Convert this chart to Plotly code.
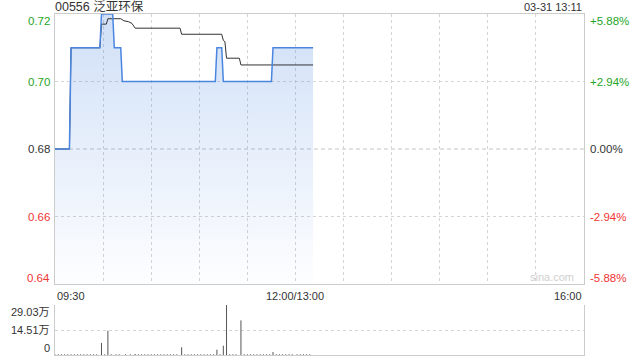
import plotly.graph_objects as go

# ---------------- data ----------------
title_text = "00556 泛亚环保"
stamp_text = "03-31 13:11"

# minutes since 09:30 (continuous trading minutes, 150 = 12:00/13:00, 330 = 16:00)
price_min = [0, 9, 10, 28, 29, 36, 37, 41, 42, 100, 101, 104, 105, 135, 136, 161]
price_val = [0.68, 0.68, 0.71, 0.71, 0.72, 0.72, 0.71, 0.71, 0.70, 0.70, 0.71, 0.71,
             0.70, 0.70, 0.71, 0.71]

avg_min = [0, 9, 10, 28, 29, 32, 33, 41, 43, 46, 48, 50, 78, 79, 104, 105, 106, 107,
           115, 116, 161]
avg_val = [0.68, 0.68, 0.71, 0.71, 0.717, 0.717, 0.7186, 0.7186, 0.718, 0.7177, 0.7172,
           0.7158, 0.7158, 0.714, 0.714, 0.7122, 0.7118, 0.7069, 0.7069, 0.7049, 0.7049]

# volume (万)
vol_min = [29, 33, 50, 79, 101, 105, 107, 116, 136]
vol_val = [7.0, 14.1, 0.6, 4.5, 3.1, 5.4, 29.03, 20.1, 1.7]
small_vol_min = [0, 2, 4, 6, 8, 10, 12, 14, 16, 18, 20, 22, 24, 26, 31, 35, 38, 40, 44, 47,
                 52, 54, 56, 58, 60, 62, 64, 66, 68, 70, 72, 74, 76, 81, 83, 85, 87, 89,
                 91, 93, 95, 97, 99, 103, 109, 111, 113, 118, 120, 122, 124, 126, 128,
                 130, 132, 134, 138, 140, 142, 144, 146, 148, 151, 153, 155, 157, 159]
small_vol_val = [0.5] * len(small_vol_min)

price_ticks = [0.72, 0.70, 0.68, 0.66, 0.64]
price_tick_labels = ["0.72", "0.70", "0.68", "0.66", "0.64"]
pct_tick_labels = ["+5.88%", "+2.94%", "0.00%", "-2.94%", "-5.88%"]
time_tick_pos = [0, 150, 330]
time_tick_labels = ["09:30", "12:00/13:00", "16:00"]
vol_ticks = [29.03, 14.51, 0]
vol_tick_labels = ["29.03万", "14.51万", "0"]

# ---------------- style ----------------
GREEN = "#1fa51f"
RED = "#f03535"
DARK = "#333333"
GRID = "#d4d4d4"
BORDER = "#cccccc"
FONT = "Arial, 'Liberation Sans', 'Noto Sans CJK SC', sans-serif"
label_colors = [GREEN, GREEN, DARK, RED, RED]

main_bottom = 71 / 341
vol_top = 50 / 341

fig = go.Figure()

# fill area under price
fig.add_trace(go.Scatter(
    x=price_min, y=price_val, mode="lines",
    line=dict(width=0, color="rgba(0,0,0,0)"),
    fill="tozeroy",
    fillgradient=dict(type="vertical",
                      colorscale=[[0, "rgba(74,134,224,0.01)"], [1, "rgba(74,134,224,0.26)"]],
                      start=0.64, stop=0.72),
    hoverinfo="skip", showlegend=False, xaxis="x", yaxis="y"))

# average price line
fig.add_trace(go.Scatter(
    x=avg_min, y=avg_val, mode="lines",
    line=dict(width=1, color="#333333"),
    showlegend=False, xaxis="x", yaxis="y"))

# price line
fig.add_trace(go.Scatter(
    x=price_min, y=price_val, mode="lines",
    line=dict(width=1.5, color="#4a86e0"),
    showlegend=False, xaxis="x", yaxis="y"))

# volume bars as vertical segments
def segs(ms, vs):
    xs, ys = [], []
    for m, v in zip(ms, vs):
        xs += [m, m, None]
        ys += [0, v, None]
    return xs, ys

sx, sy = segs(small_vol_min, small_vol_val)
fig.add_trace(go.Scatter(x=sx, y=sy, mode="lines", line=dict(width=1, color="#777777"),
                         showlegend=False, xaxis="x2", yaxis="y2"))
vx, vy = segs(vol_min, vol_val)
fig.add_trace(go.Scatter(x=vx, y=vy, mode="lines", line=dict(width=1, color="#555555"),
                         showlegend=False, xaxis="x2", yaxis="y2"))

fig.update_layout(
    width=640, height=360,
    margin=dict(l=55, r=56, t=14, b=5),
    paper_bgcolor="white", plot_bgcolor="white",
    font=dict(family=FONT, size=11, color=DARK),
    showlegend=False,
    xaxis=dict(domain=[0, 1], range=[0, 330], anchor="y", tick0=0, dtick=30,
               showticklabels=False, ticks="", showgrid=True, gridcolor=GRID,
               griddash="dot", gridwidth=1, showline=True, linecolor=BORDER,
               linewidth=1, mirror=True, zeroline=False),
    yaxis=dict(domain=[main_bottom, 1], range=[0.64, 0.72], anchor="x",
               tickvals=[0.70, 0.66], showticklabels=False, ticks="",
               showgrid=True, gridcolor=GRID, griddash="dot", gridwidth=1,
               showline=True, linecolor=BORDER, linewidth=1, mirror=True, zeroline=False),
    xaxis2=dict(domain=[0, 1], range=[0, 330], anchor="y2", showticklabels=False,
                ticks="", showgrid=False, showline=True, linecolor=BORDER,
                linewidth=1, zeroline=False),
    yaxis2=dict(domain=[0, vol_top], range=[0, 29.03], anchor="x2",
                tickvals=[14.51, 29.03], showticklabels=False, ticks="",
                showgrid=True, gridcolor=GRID, griddash="dot", gridwidth=1,
                showline=True, linecolor=BORDER, linewidth=1, mirror=True, zeroline=False),
)

# dashed prev-close line
fig.add_shape(type="line", xref="x", yref="y", x0=0, x1=330, y0=0.68, y1=0.68,
              line=dict(color="#c4c4c4", width=1, dash="4px,3px"), layer="below")

ann = []
edge_shift = {0: -6.5, 4: 6.5}
for i, (v, lab, pl, col) in enumerate(zip(price_ticks, price_tick_labels,
                                          pct_tick_labels, label_colors)):
    ys = edge_shift.get(i, 0)
    ann.append(dict(xref="paper", yref="y", x=0, y=v, text=lab, showarrow=False,
                    xanchor="right", yanchor="middle", xshift=-3, yshift=ys,
                    font=dict(size=11.5, color=col)))
    ann.append(dict(xref="paper", yref="y", x=1, y=v, text=pl, showarrow=False,
                    xanchor="left", yanchor="middle", xshift=4, yshift=ys,
                    font=dict(size=11.5, color=col)))

anchors = ["left", "center", "right"]
for p, lab, a in zip(time_tick_pos, time_tick_labels, anchors):
    ann.append(dict(xref="x", yref="paper", x=p, y=main_bottom, text=lab, showarrow=False,
                    xanchor=a, yanchor="middle", yshift=-12, font=dict(size=11, color=DARK)))

vol_shift = [-6.5, 0, 7]
for v, lab, s in zip(vol_ticks, vol_tick_labels, vol_shift):
    ann.append(dict(xref="paper", yref="y2", x=0, y=v, text=lab, showarrow=False,
                    xanchor="right", yanchor="middle", xshift=-3, yshift=s,
                    font=dict(size=11, color=DARK)))

ann.append(dict(xref="paper", yref="paper", x=0, y=1, text=title_text, showarrow=False,
                xanchor="left", yanchor="middle", yshift=7, xshift=-2,
                font=dict(size=12.5, color=DARK)))
ann.append(dict(xref="paper", yref="paper", x=1, y=1, text=stamp_text, showarrow=False,
                xanchor="right", yanchor="middle", yshift=7,
                font=dict(size=11, color=DARK)))
ann.append(dict(xref="paper", yref="y", x=1, y=0.64, text="sina.com", showarrow=False,
                xanchor="right", yanchor="middle", xshift=-8, yshift=7,
                font=dict(size=11, color="#cfcfcf")))

fig.update_layout(annotations=ann)

fig.write_html("out.html")
